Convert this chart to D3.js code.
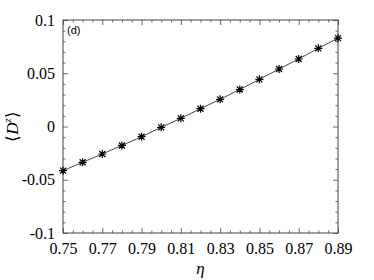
<!DOCTYPE html>
<html>
<head>
<meta charset="utf-8">
<script src="https://cdn.jsdelivr.net/npm/d3@7"></script>
<style>
  body { margin: 0; background: #fff; }
  svg { display: block; }
</style>
</head>
<body>
<svg id="chart"></svg>
<script>
// eta values and <D^z>
const etaValues = [0.75, 0.76, 0.77, 0.78, 0.79, 0.80, 0.81, 0.82, 0.83, 0.84, 0.85, 0.86, 0.87, 0.88, 0.89];
const dzValues = [-0.0415, -0.0336, -0.0258, -0.0178, -0.0096, -0.0008, 0.0077, 0.0167, 0.0255, 0.0347, 0.0443, 0.054, 0.0634, 0.0734, 0.083];
const xTicks = [0.75, 0.77, 0.79, 0.81, 0.83, 0.85, 0.87, 0.89];
const yTicks = [-0.1, -0.05, 0, 0.05, 0.1];
const yTickLabels = ["-0.1", "-0.05", "0", "0.05", "0.1"];

const width = 374, height = 280;
const margin = { top: 20, right: 36, bottom: 47, left: 63 };
const serif = "'Liberation Serif', 'Times New Roman', serif";

const svg = d3.select("#chart")
    .attr("width", width)
    .attr("height", height);

const x = d3.scaleLinear().domain([0.75, 0.89]).range([margin.left, width - margin.right]);
const y = d3.scaleLinear().domain([-0.1, 0.1]).range([height - margin.bottom, margin.top]);

const data = etaValues.map((e, i) => ({ eta: e, dz: dzValues[i] }));

// minor tick positions
const xMinor = d3.range(0, 29).map(i => 0.75 + i * 0.005).filter(v => !xTicks.some(t => Math.abs(t - v) < 1e-9));
const yMinor = d3.range(0, 21).map(i => -0.1 + i * 0.01).filter(v => !yTicks.some(t => Math.abs(t - v) < 1e-9));

const axisColor = "#444";
const majorLen = 5, minorLen = 2.5;

function styleAxis(g) {
    g.attr("font-family", serif).attr("font-size", 16);
    g.select(".domain").remove();
    g.selectAll(".tick line").attr("stroke", axisColor).attr("stroke-width", 0.8);
    g.selectAll(".tick text")
        .style("font-family", serif)
        .style("font-size", "16px")
        .attr("fill", "#000");
}

// bottom axis with labels
svg.append("g")
    .attr("transform", `translate(0,${height - margin.bottom})`)
    .call(d3.axisBottom(x).tickValues(xTicks).tickFormat(d3.format(".2f")).tickSizeInner(-majorLen).tickPadding(10))
    .call(styleAxis);
svg.append("g")
    .attr("transform", `translate(0,${height - margin.bottom})`)
    .call(d3.axisBottom(x).tickValues(xMinor).tickFormat("").tickSizeInner(-minorLen))
    .call(styleAxis);

// top axis ticks only
svg.append("g")
    .attr("transform", `translate(0,${margin.top})`)
    .call(d3.axisTop(x).tickValues(xTicks).tickFormat("").tickSizeInner(-majorLen))
    .call(styleAxis);
svg.append("g")
    .attr("transform", `translate(0,${margin.top})`)
    .call(d3.axisTop(x).tickValues(xMinor).tickFormat("").tickSizeInner(-minorLen))
    .call(styleAxis);

// left axis with labels
svg.append("g")
    .attr("transform", `translate(${margin.left},0)`)
    .call(d3.axisLeft(y).tickValues(yTicks).tickFormat((d, i) => yTickLabels[i]).tickSizeInner(-majorLen).tickPadding(8))
    .call(styleAxis);
svg.append("g")
    .attr("transform", `translate(${margin.left},0)`)
    .call(d3.axisLeft(y).tickValues(yMinor).tickFormat("").tickSizeInner(-minorLen))
    .call(styleAxis);

// right axis ticks only
svg.append("g")
    .attr("transform", `translate(${width - margin.right},0)`)
    .call(d3.axisRight(y).tickValues(yTicks).tickFormat("").tickSizeInner(-majorLen))
    .call(styleAxis);
svg.append("g")
    .attr("transform", `translate(${width - margin.right},0)`)
    .call(d3.axisRight(y).tickValues(yMinor).tickFormat("").tickSizeInner(-minorLen))
    .call(styleAxis);

// frame
svg.append("rect")
    .attr("x", margin.left)
    .attr("y", margin.top)
    .attr("width", width - margin.left - margin.right)
    .attr("height", height - margin.top - margin.bottom)
    .attr("fill", "none")
    .attr("stroke", axisColor)
    .attr("stroke-width", 1);

// line through points
const line = d3.line().x(d => x(d.eta)).y(d => y(d.dz));
svg.append("path")
    .datum(data)
    .attr("d", line)
    .attr("fill", "none")
    .attr("stroke", "#333")
    .attr("stroke-width", 0.9);

// asterisk markers
const r = 4;
const star = `M${-r},0L${r},0M0,${-r}L0,${r}M${-r * 0.75},${-r * 0.75}L${r * 0.75},${r * 0.75}M${-r * 0.75},${r * 0.75}L${r * 0.75},${-r * 0.75}`;
svg.append("g")
    .selectAll("path")
    .data(data)
    .enter()
    .append("path")
    .attr("transform", d => `translate(${x(d.eta)},${y(d.dz)})`)
    .attr("d", star)
    .attr("stroke", "#000")
    .attr("stroke-width", 1.2)
    .attr("fill", "none");

// panel label
svg.append("text")
    .attr("x", margin.left + 4)
    .attr("y", margin.top + 14)
    .style("font-family", "Arial, 'Liberation Sans', sans-serif")
    .style("font-size", "11px")
    .text("(d)");

// x label
svg.append("text")
    .attr("x", (margin.left + width - margin.right) / 2)
    .attr("y", 274)
    .attr("text-anchor", "middle")
    .style("font-family", serif)
    .style("font-style", "italic")
    .style("font-size", "17px")
    .text("η");

// y label
const yl = svg.append("text")
    .attr("transform", `translate(18,${(margin.top + height - margin.bottom) / 2}) rotate(-90)`)
    .attr("text-anchor", "middle")
    .style("font-family", serif)
    .style("font-size", "17px");
yl.append("tspan").text("⟨");
yl.append("tspan").style("font-style", "italic").text("D");
yl.append("tspan").attr("dy", -7).style("font-size", "11px").style("font-style", "italic").text("z");
yl.append("tspan").attr("dy", 7).text("⟩");
</script>
</body>
</html>
